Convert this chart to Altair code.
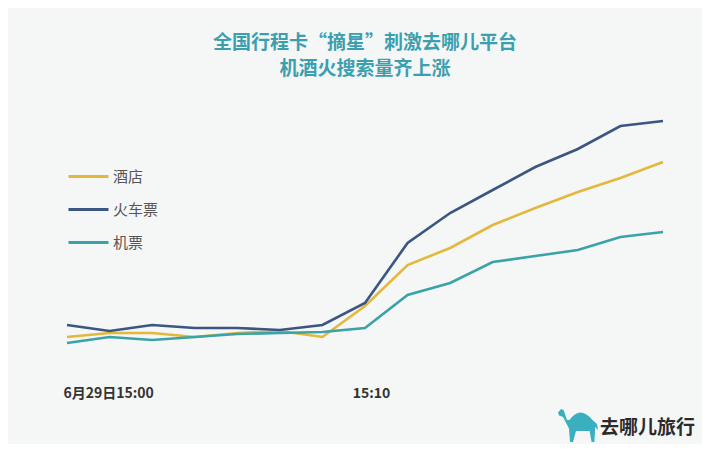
import altair as alt
import pandas as pd

# ---- data (relative search volume index) ----
steps = list(range(15))
hotel = [23, 27, 27, 23, 27, 29, 23, 54, 95, 112, 135, 152, 168, 182, 198]      # 酒店
train = [35, 29, 35, 32, 32, 30, 35, 57, 117, 147, 170, 193, 211, 234, 239]     # 火车票
flight = [17, 23, 20, 23, 26, 27, 28, 32, 65, 77, 98, 104, 110, 123, 128]       # 机票
series_names = ["酒店", "火车票", "机票"]
series_colors = ["#e3b83b", "#3b5680", "#3aa3a8"]
tick_values = [0, 7]
tick_labels = ["6月29日15:00", "15:10"]
title_lines = ["全国行程卡“摘星”刺激去哪儿平台", "机酒火搜索量齐上涨"]
brand = ["去哪儿旅行"]

rows = []
for name, vals in zip(series_names, [hotel, train, flight]):
    for s, v in zip(steps, vals):
        rows.append({"step": s, "value": v, "series": name})
df = pd.DataFrame(rows)

FONT = "Noto Sans CJK SC"

label_expr = " : ".join(
    f"datum.value == {v} ? '{t}'" for v, t in zip(tick_values, tick_labels)
) + " : ''"

lines = alt.Chart(df).mark_line(strokeWidth=2.6).encode(
    x=alt.X(
        "step:Q",
        scale=alt.Scale(domain=[0, 14], nice=False, zero=False),
        axis=alt.Axis(
            values=tick_values,
            labelExpr=label_expr,
            title=None,
            domain=False,
            ticks=False,
            grid=False,
            labelPadding=26,
            labelFont=FONT,
            labelFontSize=14,
            labelFontWeight="bold",
            labelColor="#333333",
            labelAlign={"condition": {"test": "datum.value === 0", "value": "left"}, "value": "center"},
            labelOffset={"condition": {"test": "datum.value === 0", "value": -4}, "value": 6},
        ),
    ),
    y=alt.Y(
        "value:Q",
        scale=alt.Scale(domain=[0, 260], nice=False, zero=False),
        axis=None,
    ),
    color=alt.Color(
        "series:N",
        scale=alt.Scale(domain=series_names, range=series_colors),
        sort=series_names,
        legend=alt.Legend(
            title=None,
            orient="none",
            legendX=10,
            legendY=65,
            symbolType="M-2,0H2",
            symbolSize=400,
            symbolStrokeWidth=3,
            labelOffset=13,
            rowPadding=13,
            labelFont=FONT,
            labelFontSize=15,
            labelColor="#555555",
        ),
    ),
)

camel_path = ("M-1,-0.68 L-0.85,-0.85 L-0.72,-0.8 L-0.55,-0.3 L-0.42,-0.3 "
              "Q0.1,-1.05 0.72,-0.3 L0.95,-0.1 L1,0.2 L0.86,0.05 "
              "L0.82,0.8 L0.68,0.8 L0.58,0.25 L-0.1,0.25 L-0.25,0.8 L-0.4,0.8 "
              "L-0.45,0.12 L-0.75,-0.45 L-0.95,-0.52 Z")

logo_icon = alt.Chart(pd.DataFrame({"b": brand})).mark_point(
    shape=camel_path, filled=True, color="#3aafbf", opacity=1, size=1600
).encode(x=alt.value(511), y=alt.value(326))

logo_text = alt.Chart(pd.DataFrame({"b": brand})).mark_text(
    font=FONT, fontSize=19, fontWeight="bold", color="#2a2a2a", align="left", baseline="middle"
).encode(text="b:N", x=alt.value(533), y=alt.value(328))

chart = alt.layer(lines, logo_icon, logo_text).properties(
    width=596,
    height=260,
    autosize=alt.AutoSizeParams(type="none"),
    padding={"left": 59, "top": 92, "right": 39, "bottom": 84},
    background="#f5f6f6",
    title=alt.TitleParams(
        text=title_lines[0],
        subtitle=title_lines[1],
        font=FONT,
        fontSize=19,
        fontWeight="bold",
        color="#3a9fae",
        subtitleFont=FONT,
        subtitleFontSize=19,
        subtitleFontWeight="bold",
        subtitleColor="#3a9fae",
        subtitlePadding=7,
        anchor="middle",
        offset=21,
    ),
).configure_view(stroke=None)

chart.save("out.html", embed_options={"renderer": "svg", "actions": False})
